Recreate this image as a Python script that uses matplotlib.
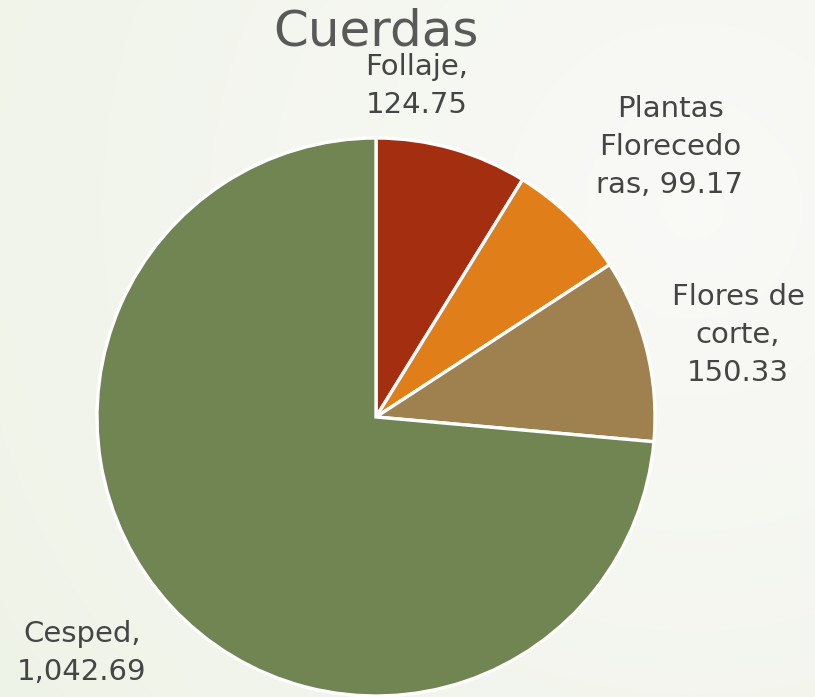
import numpy as np
from matplotlib import pyplot as plt

# data
categories = ["Follaje", "Plantas Florecedoras", "Flores de corte", "Cesped"]
label_text = ["Follaje,", "Plantas\nFlorecedo\nras,", "Flores de\ncorte,", "Cesped,"]
label_sep = ["\n", " ", "\n", "\n"]
values = [124.75, 99.17, 150.33, 1042.69]
colors = ["#A32F10", "#E07F1A", "#9F8150", "#718552"]
title = "Cuerdas"

W, H = 815, 697
fig = plt.figure(figsize=(W / 100, H / 100), dpi=100)

# soft background gradient (greenish toward the left / bottom)
yy, xx = np.mgrid[0:H, 0:W]
d = np.sqrt((xx - W * 0.85) ** 2 + (yy - H * 0.3) ** 2) / np.sqrt(W ** 2 + H ** 2)
c0 = np.array([0.978, 0.978, 0.970])
c1 = np.array([0.935, 0.953, 0.905])
bg = c0 + (c1 - c0) * np.clip(d / 0.8, 0, 1)[..., None]
bgax = fig.add_axes([0, 0, 1, 1])
bgax.imshow(bg, extent=[0, W, 0, H], aspect="auto")
bgax.axis("off")

ax = fig.add_axes([0, 0, 1, 1])
ax.patch.set_alpha(0)
ax.pie(values, colors=colors, startangle=90, counterclock=False,
       center=(376, H - 417), radius=279,
       wedgeprops=dict(edgecolor="white", linewidth=2.4))
ax.set_xlim(0, W)
ax.set_ylim(0, H)
ax.set_aspect("equal")
ax.axis("off")

# label placement (pixel centres from the reference)
pos = [(417, 86), (670, 147), (738, 335), (82, 653)]
for (x, y), lab, sep, v in zip(pos, label_text, label_sep, values):
    ax.text(x, H - y, f"{lab}{sep}{v:,.2f}",
            ha="center", va="center", fontsize=21, color="#454545",
            linespacing=1.45, multialignment="center")

ax.text(376, H - 31, title, ha="center", va="center", fontsize=36, color="#595959")

plt.savefig("out.png", dpi=100)
